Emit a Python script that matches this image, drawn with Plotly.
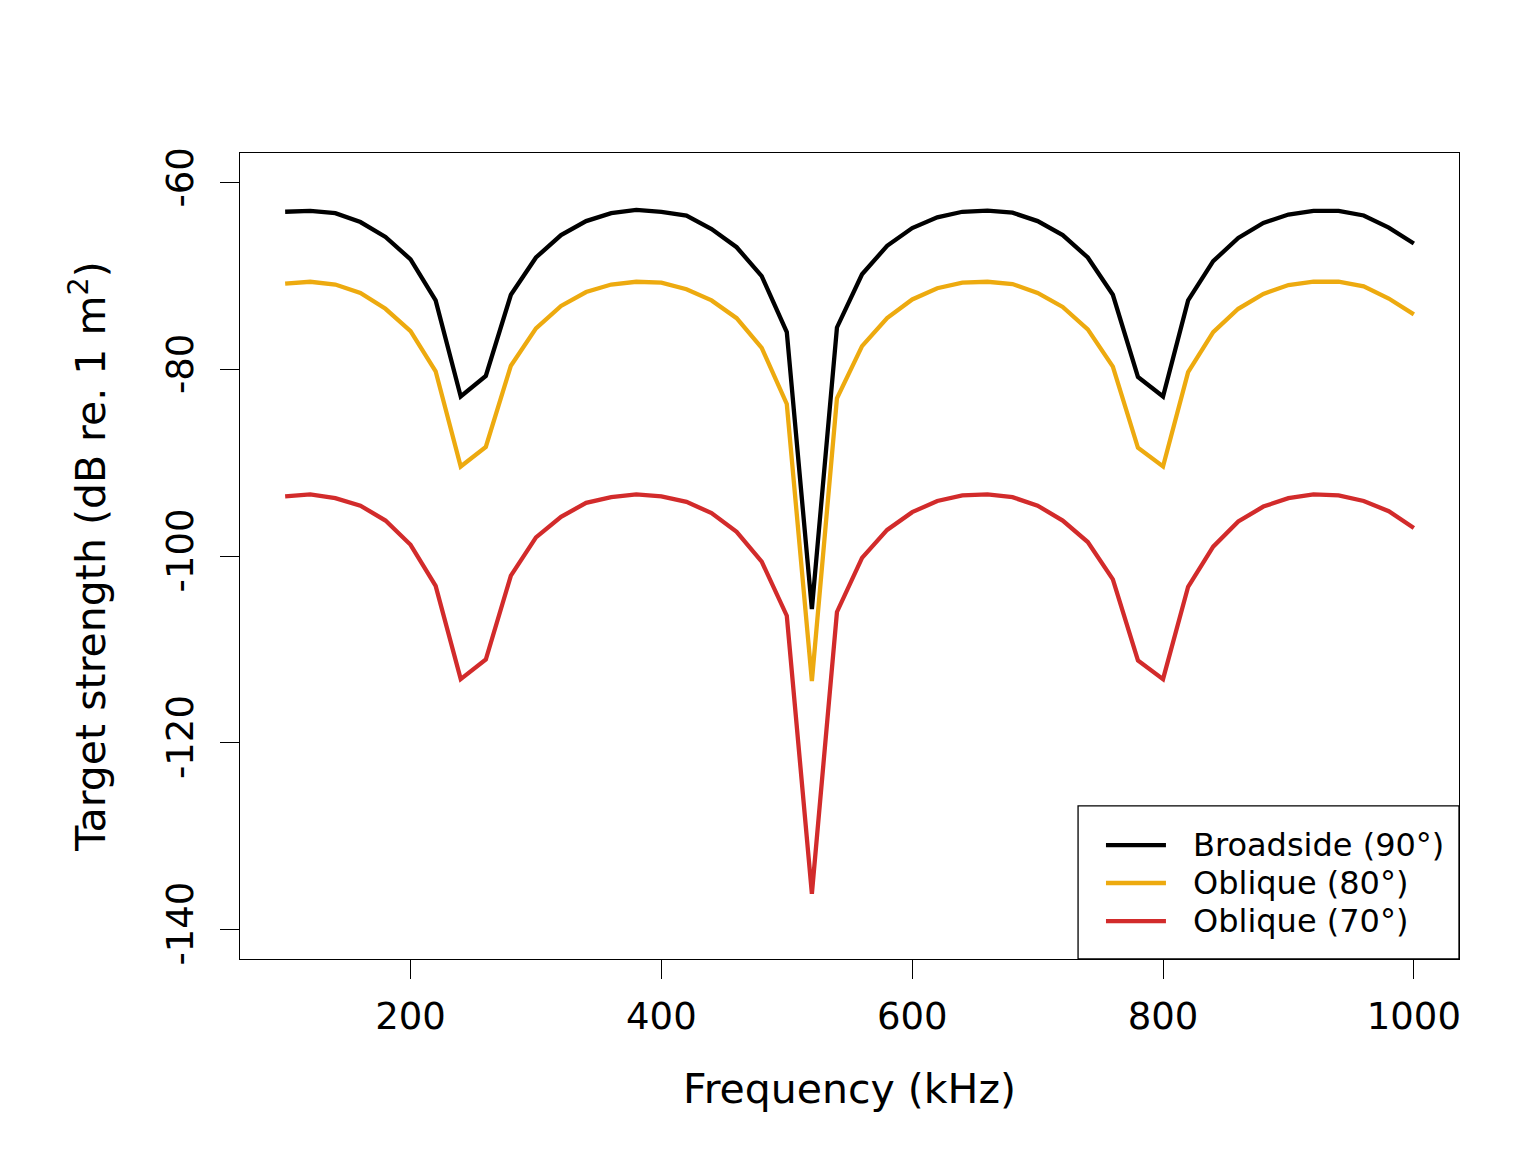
import plotly.graph_objects as go

# Frequency grid (kHz)
freq = [100, 120, 140, 160, 180, 200, 220, 240, 260, 280,
        300, 320, 340, 360, 380, 400, 420, 440, 460, 480,
        500, 520, 540, 560, 580, 600, 620, 640, 660, 680,
        700, 720, 740, 760, 780, 800, 820, 840, 860, 880,
        900, 920, 940, 960, 980, 1000]

# Target strength (dB re. 1 m^2)
ts_broadside = [-63.1, -63.0, -63.25, -64.2, -65.8, -68.2, -72.6, -82.9, -80.7, -72.0,
                -68.0, -65.6, -64.1, -63.25, -62.9, -63.1, -63.5, -64.95, -66.9, -70.0,
                -76.0, -105.7, -75.5, -69.8, -66.75, -64.85, -63.7, -63.1, -62.97, -63.2,
                -64.1, -65.6, -68.0, -72.0, -80.8, -82.9, -72.6, -68.4, -65.9, -64.3,
                -63.4, -63.0, -63.0, -63.5, -64.8, -66.5]

ts_oblique80 = [-70.8, -70.6, -70.9, -71.8, -73.5, -75.9, -80.2, -90.4, -88.3, -79.6,
                -75.6, -73.2, -71.7, -70.9, -70.6, -70.7, -71.4, -72.6, -74.5, -77.7,
                -83.7, -113.4, -83.1, -77.5, -74.5, -72.5, -71.3, -70.7, -70.6, -70.85,
                -71.8, -73.3, -75.7, -79.7, -88.4, -90.4, -80.3, -76.0, -73.5, -71.9,
                -70.95, -70.6, -70.6, -71.1, -72.4, -74.1]

ts_oblique70 = [-93.6, -93.4, -93.8, -94.6, -96.2, -98.8, -103.2, -113.2, -111.1, -102.1,
                -98.0, -95.8, -94.3, -93.7, -93.4, -93.6, -94.2, -95.4, -97.4, -100.6,
                -106.4, -136.2, -106.0, -100.2, -97.2, -95.3, -94.1, -93.5, -93.4, -93.7,
                -94.6, -96.2, -98.5, -102.5, -111.2, -113.2, -103.3, -99.0, -96.3, -94.7,
                -93.8, -93.4, -93.5, -94.1, -95.2, -97.0]

x_ticks = [200, 400, 600, 800, 1000]
y_ticks = [-60, -80, -100, -120, -140]
y_ticklabels = ["-60", "-80", "-100", "-120", "-140"]

series = [
    ("Broadside (90°)", ts_broadside, "#000000"),
    ("Oblique (80°)", ts_oblique80, "#EDAA0F"),
    ("Oblique (70°)", ts_oblique70, "#D22B2B"),
]

fig = go.Figure()
for name, ts, col in series:
    fig.add_trace(go.Scatter(x=freq, y=ts, mode="lines", name=name,
                             line=dict(color=col, width=4.3), showlegend=False))

# legend drawn R-style: box in the bottom right corner of the plot
fig.add_shape(type="rect", xref="paper", yref="paper",
              x0=0.6875, x1=1.0, y0=0.0, y1=0.19,
              line=dict(color="black", width=1.3), fillcolor="white")
row_y = [0.1414, 0.0943, 0.0471]
for (name, ts, col), yy in zip(series, row_y):
    fig.add_shape(type="line", xref="paper", yref="paper",
                  x0=0.7104, x1=0.7596, y0=yy, y1=yy,
                  line=dict(color=col, width=4.3))
    fig.add_annotation(text=name, xref="paper", yref="paper",
                       x=0.780, y=yy, xanchor="left", yanchor="middle",
                       showarrow=False, font=dict(size=32))

fig.update_layout(
    width=1536, height=1152,
    paper_bgcolor="white", plot_bgcolor="white",
    margin=dict(l=232, r=85, t=145, b=201),
    font=dict(family="DejaVu Sans", size=37, color="black"),
)

fig.update_xaxes(
    range=[64, 1036], tickvals=x_ticks,
    showgrid=False, zeroline=False,
    showline=True, mirror=True, linecolor="black", linewidth=1.3,
    ticks="outside", ticklen=19, tickwidth=1.3, tickcolor="black",
    ticklabelstandoff=5, tickfont=dict(size=37),
    title=dict(text="Frequency (kHz)", standoff=37, font=dict(size=41)),
)

fig.update_yaxes(
    range=[-143.2, -56.8], tickvals=y_ticks, ticktext=y_ticklabels,
    showgrid=False, zeroline=False,
    showline=True, mirror=True, linecolor="black", linewidth=1.3,
    ticks="outside", ticklen=19, tickwidth=1.3, tickcolor="black",
    tickangle=-90, ticklabelstandoff=12, tickfont=dict(size=37),
    title=dict(text="Target strength (dB re. 1 m<sup>2</sup>)", standoff=40,
               font=dict(size=41)),
)

fig.write_html("out.html")
